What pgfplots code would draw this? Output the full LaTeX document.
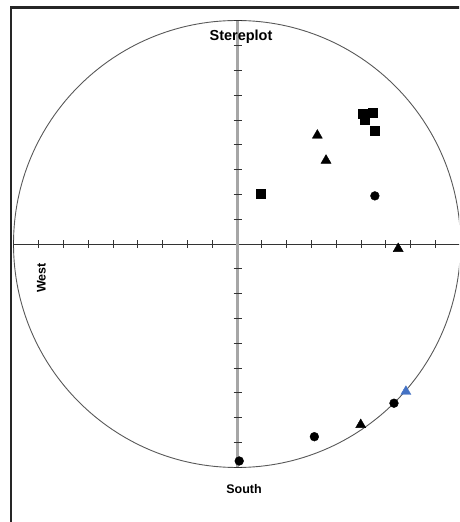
\documentclass[border=0pt]{standalone}
\usepackage{pgfplots}
\pgfplotsset{compat=1.18}
\usepackage{fontspec}
\setmainfont{Liberation Sans}
\definecolor{xlblue}{RGB}{68,114,196}
\begin{document}
\begin{tikzpicture}[x=1pt,y=1pt]
\useasboundingbox (0,0) rectangle (459,522);
\clip (0,0) rectangle (459,522);
% frame
\draw[black!85, line width=2.6pt] (11,-5) -- (11,514.5) -- (470,514.5);
% circle
\draw[black!65, line width=0.9pt] (237,278) circle (223.5);
% horizontal axis
\draw[black!80, line width=0.9pt] (13.5,278) -- (470,278);
\foreach \i in {-9,...,9} { \draw[black!80, line width=0.8pt] (237+\i*24.8,274) -- ++(0,8); }
% vertical axis
\draw[black!35, line width=2.2pt] (237.5,54.5) -- (237.5,501.5);
\foreach \i in {-9,...,9} { \ifnum\i=0\relax\else \draw[black!80, line width=0.8pt] (233.5,278+\i*24.8) -- ++(8,0);\fi }
% labels
\node[font=\bfseries\fontsize{14.5}{16}\selectfont] at (241,485) {Stereplot};
\node[font=\bfseries\fontsize{12.5}{14}\selectfont] at (244,33) {South};
\node[font=\bfseries\fontsize{12.5}{14}\selectfont, rotate=90] at (41.5,244) {West};
\begin{axis}[
  at={(0,0)}, anchor=south west,
  width=459pt, height=522pt, scale only axis,
  xmin=-95.56, xmax=89.52, ymin=-112.10, ymax=98.39,
  hide axis, clip=false,
]
\addplot[only marks, mark=square*, mark size=4.6pt, black] coordinates {
 (50.8,52.4) (54.6,52.9) (51.5,50.3) (55.5,45.7) (9.7,20.3)
};
\addplot[only marks, mark=triangle*, mark size=5.8pt, black] coordinates {
 (32.4,43.8) (35.9,33.7) (65.0,-1.9) (49.9,-72.9)
};
\addplot[only marks, mark=*, mark size=4.4pt, black] coordinates {
 (55.6,19.4) (63.3,-64.2) (31.2,-77.7) (0.9,-87.5)
};
\addplot[only marks, mark=triangle*, mark size=5.8pt, xlblue, mark options={draw=xlblue, fill=xlblue}] coordinates {
 (68.1,-59.5)
};
\end{axis}
\end{tikzpicture}
\end{document}
